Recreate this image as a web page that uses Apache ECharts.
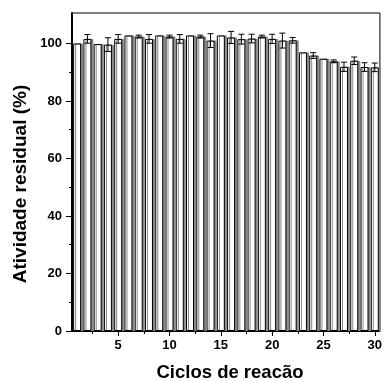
<!DOCTYPE html>
<html>
<head>
<meta charset="utf-8">
<script src="https://cdn.jsdelivr.net/npm/echarts@6/dist/echarts.min.js"></script>
<style>html,body{margin:0;padding:0;background:#fff}#c{width:385px;height:381px}</style>
</head>
<body>
<div id="c"></div>
<script>
const cycles = [1,2,3,4,5,6,7,8,9,10,11,12,13,14,15,16,17,18,19,20,21,22,23,24,25,26,27,28,29,30];
const activity = [100.0,101.6,99.8,99.6,101.6,102.8,102.4,101.6,102.8,102.4,101.6,102.8,102.4,101.0,102.8,102.1,101.5,101.7,102.4,101.6,101.0,101.1,96.9,95.8,94.7,93.8,91.9,94.0,91.8,91.7];
const errors = [0,1.5,0,2.4,1.5,0,0.5,1.5,0,0.5,1.5,0,0.5,2.4,0,2.1,1.7,1.5,0.5,1.6,2.6,1.0,0,1.0,0,0.5,1.6,1.3,1.5,1.5];
const xMajor = [5,10,15,20,25,30];
const xMinor = [2.5,7.5,12.5,17.5,22.5,27.5];
const yMajor = [0,20,40,60,80,100];
const yMinor = [10,30,50,70,90];
const yLabel = 'Atividade residual (%)';
const xLabel = 'Ciclos de reacão';

const barData = cycles.map((c,i)=>[c, activity[i]]);
const errData = cycles.map((c,i)=>[c, activity[i]-errors[i], activity[i]+errors[i]]);
const font = '"Liberation Sans", Arial, sans-serif';
const tickLbl = {color:'#000', fontWeight:'bold', fontSize:13, fontFamily:font};

const chart = echarts.init(document.getElementById('c'));
chart.setOption({
  animation:false,
  grid:{left:72, top:13, width:315, bottom:50, show:true, borderColor:'#000', borderWidth:1, backgroundColor:'transparent'},
  xAxis:[{
    type:'value', min:0.5, max:30.5,
    axisLine:{show:true, lineStyle:{color:'#000', width:1}},
    axisTick:{show:true, length:5, customValues:xMajor, lineStyle:{color:'#000'}},
    axisLabel:Object.assign({show:true, customValues:xMajor, margin:8}, tickLbl),
    splitLine:{show:false}
  },{
    type:'value', min:0.5, max:30.5, position:'bottom',
    axisLine:{show:false},
    axisTick:{show:true, length:3, customValues:xMinor, lineStyle:{color:'#000'}},
    axisLabel:{show:false},
    splitLine:{show:false}
  }],
  yAxis:[{
    type:'value', min:0, max:110.6,
    axisLine:{show:true, lineStyle:{color:'#000', width:2}},
    axisTick:{show:true, length:6, customValues:yMajor, lineStyle:{color:'#000'}},
    axisLabel:Object.assign({customValues:yMajor, margin:10}, tickLbl),
    splitLine:{show:false}
  },{
    type:'value', min:0, max:110.6, position:'left',
    axisLine:{show:false},
    axisTick:{show:true, length:3, customValues:yMinor, lineStyle:{color:'#000'}},
    axisLabel:{show:false},
    splitLine:{show:false}
  }],
  series:[{
    type:'bar', data:barData, barWidth:8, xAxisIndex:0, yAxisIndex:0,
    itemStyle:{color:'#fff', borderColor:'#000', borderWidth:1, shadowColor:'#888', shadowOffsetX:2, shadowOffsetY:0, shadowBlur:0}
  },{
    type:'custom', xAxisIndex:0, yAxisIndex:0, data:errData, z:5,
    renderItem:function(params, api){
      const x = api.value(0), lo = api.value(1), hi = api.value(2);
      if (hi - lo < 0.01) return null;
      const pLo = api.coord([x, lo]), pHi = api.coord([x, hi]);
      const w = 3;
      const s = {stroke:'#000', lineWidth:1};
      return {type:'group', children:[
        {type:'line', shape:{x1:pLo[0], y1:pLo[1], x2:pHi[0], y2:pHi[1]}, style:s},
        {type:'line', shape:{x1:pLo[0]-w, y1:pLo[1], x2:pLo[0]+w, y2:pLo[1]}, style:s},
        {type:'line', shape:{x1:pHi[0]-w, y1:pHi[1], x2:pHi[0]+w, y2:pHi[1]}, style:s}
      ]};
    }
  }],
  graphic:[
    {type:'text', x:230, y:373,
     style:{text:xLabel, font:'bold 18.5px '+font, fill:'#000', textAlign:'center', textVerticalAlign:'middle'}},
    {type:'text', x:21, y:184, rotation:Math.PI/2,
     style:{text:yLabel, font:'bold 19px '+font, fill:'#000', textAlign:'center', textVerticalAlign:'middle'}}
  ]
});
</script>
</body>
</html>
